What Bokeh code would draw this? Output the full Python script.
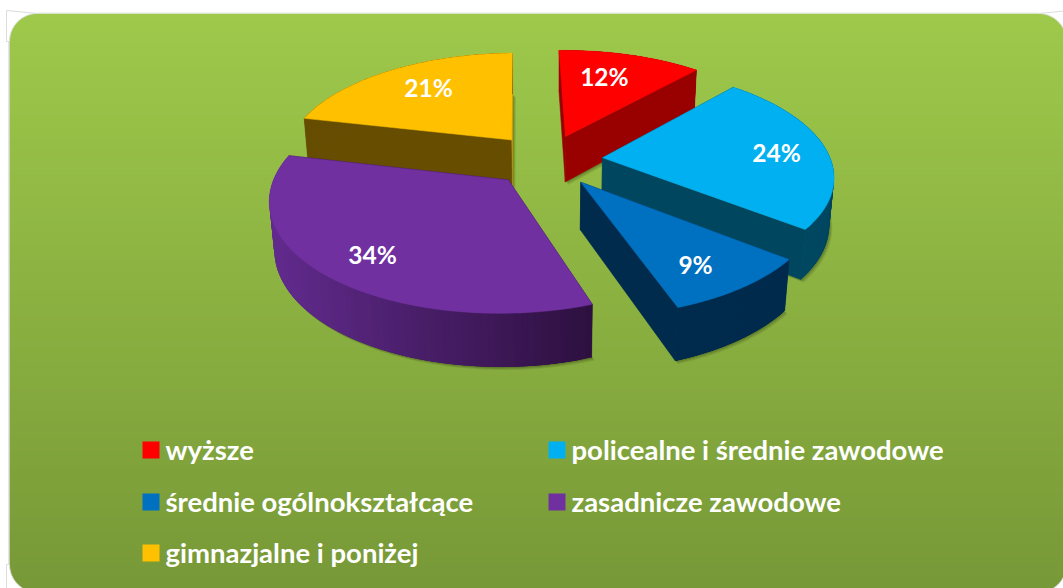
import numpy as np
from bokeh.plotting import figure
from bokeh.embed import file_html
from bokeh.resources import INLINE
from bokeh.core.properties import value

categories = ["wyższe", "policealne i średnie zawodowe", "średnie ogólnokształcące",
              "zasadnicze zawodowe", "gimnazjalne i poniżej"]
shares = [12, 24, 9, 34, 21]
labels = ["12%", "24%", "9%", "34%", "21%"]

TOP = ["#ff0000", "#00b0f0", "#0070c0", "#7030a0", "#ffc000"]
WALL_A = ["#990000", "#00465f", "#002b4d", "#2e1040", "#664d00"]   # wall colour, front right
WALL_B = ["#990000", "#00506c", "#002b4d", "#622b8e", "#664d00"]   # wall colour, far left
END_WALL = ["#990000", "#00465f", "#002b4d", "#2e1040", "#c89600"]
EXPLODE = [0.2436, 0.2463, 0.2493, 0.2443, 0.2508]
LABEL_R = [0.685, 0.774, 0.779, 0.785, 0.710]
LABEL_F = [0.425, 0.516, 0.581, 0.486, 0.535]
DRAW_ORDER = [4, 0, 1, 3, 2]

# fitted perspective camera of the 3-D pie
CX, CY, RAD, SQUASH, K, KZ, DEPTH = 553.16, 159.51, 228.21, 0.46477, 0.15402, 0.01696, 47.35
ROT, X0 = -0.02552, -0.03029

edges = np.concatenate([[0], np.cumsum(shares)]) / sum(shares) * 2 * np.pi + ROT


def proj(i, theta, r, z):
    m = (edges[i] + edges[i + 1]) / 2
    X = X0 + EXPLODE[i] * np.sin(m) + r * np.sin(theta)
    Y = EXPLODE[i] * np.cos(m) + r * np.cos(theta)
    w = 1 / (1 + K * Y + KZ * z)
    return CX + RAD * X * w, CY - RAD * SQUASH * Y * w + DEPTH * z * w


def mix(a, b, t):
    ca = [int(a[j:j + 2], 16) for j in (1, 3, 5)]
    cb = [int(b[j:j + 2], 16) for j in (1, 3, 5)]
    return "#%02x%02x%02x" % tuple(int(round(x + (y - x) * t)) for x, y in zip(ca, cb))


p = figure(width=1063, height=588, x_range=(0, 1063), y_range=(588, 0),
           toolbar_location=None, output_backend="svg", min_border=0,
           background_fill_color="white", border_fill_color="white")
p.axis.visible = False
p.grid.visible = False
p.outline_line_color = None

# panel: vertical gradient, rounded corners
PL, PT, PR, PB, PRAD = 9, 13, 1066, 592, 28
ys = np.arange(PT, PB, 2)
cols = [mix("#9ec94b", "#779837", (y - PT) / (PB - PT)) for y in ys]
p.quad(left=PL, right=PR, top=ys, bottom=PB, fill_color=cols, line_color=None)
ang = np.linspace(0, np.pi / 2, 24)
for sx, sy, cxx, cyy in [(-1, -1, PL + PRAD, PT + PRAD), (1, -1, PR - PRAD, PT + PRAD),
                         (-1, 1, PL + PRAD, PB - PRAD), (1, 1, PR - PRAD, PB - PRAD)]:
    ax = cxx + sx * PRAD * np.cos(ang)
    ay = cyy + sy * PRAD * np.sin(ang)
    p.patch(np.r_[ax, cxx + sx * (PRAD + 3), cxx + sx * (PRAD + 3)],
            np.r_[ay, cyy + sy * (PRAD + 3), cyy + sy * 0],
            fill_color="white", line_color="#dcdcdc", line_width=1)
p.line([PL - 0.5, PL - 0.5], [PT + PRAD, PB - PRAD], line_color="#dcdcdc", line_width=1.5)
p.line([PL + PRAD, PR - PRAD], [PT - 0.5, PT - 0.5], line_color="#e6e6e6", line_width=1)


def arc(i, z, n=90):
    th = np.linspace(edges[i], edges[i + 1], n)
    return th, *proj(i, th, 1, z)


# soft shadows
for i in DRAW_ORDER:
    _, bx, by = arc(i, 1)
    ax_, ay_ = proj(i, 0, 0, 1)
    xs = np.r_[ax_, bx]
    yy = np.r_[ay_, by]
    for off, al in [(3, 0.12), (2, 0.16), (1, 0.2)]:
        p.patch(xs + off, yy + off, fill_color="#2c3a10", fill_alpha=al, line_color=None)

for i in DRAW_ORDER:
    th, tx, ty = arc(i, 0)
    _, bx, by = arc(i, 1)
    apx0, apy0 = proj(i, 0, 0, 0)
    apx1, apy1 = proj(i, 0, 0, 1)
    # radial walls
    p.patch([apx0, tx[0], bx[0], apx1], [apy0, ty[0], by[0], apy1],
            fill_color=WALL_A[i], line_color=WALL_A[i], line_width=0.5)
    p.patch([apx0, tx[-1], bx[-1], apx1], [apy0, ty[-1], by[-1], apy1],
            fill_color=END_WALL[i], line_color=END_WALL[i], line_width=0.5)
    # outer wall, in shaded strips painted over one another so no seams show
    for j in range(len(th) - 1):
        k = min(j + 3, len(th) - 1)
        t = np.clip((tx[j] - tx.min()) / max(tx.max() - tx.min(), 1), 0, 1)
        c = mix(WALL_B[i], WALL_A[i], t)
        p.patch([tx[j], tx[k], bx[k], bx[j]], [ty[j], ty[k], by[k], by[j]],
                fill_color=c, line_color=None)
    # top face
    p.patch(np.r_[apx0, tx], np.r_[apy0, ty], fill_color=TOP[i], line_color=TOP[i], line_width=0.5)

# percentage labels
lx, ly = [], []
for i in range(len(shares)):
    th = edges[i] + LABEL_F[i] * (edges[i + 1] - edges[i])
    u, v = proj(i, th, LABEL_R[i], 0)
    lx.append(float(u))
    ly.append(float(v) - 0.5)
p.text(lx, ly, text=labels, text_color="white", text_font=value("Lato"), text_font_style="bold",
       text_font_size="24.5px", text_align="center", text_baseline="middle")

# legend
COLX = [142, 548]
ROWY = [441, 493, 544]
for k, name in enumerate(categories):
    x0 = COLX[k % 2]
    y0 = ROWY[k // 2]
    p.quad(left=x0, right=x0 + 17, top=y0, bottom=y0 + 17, fill_color=TOP[k], line_color=None)
    p.text([x0 + 23], [y0 + 7.5], text=[name], text_color="white", text_font=value("Lato"),
           text_font_style="bold", text_font_size="27.5px", text_align="left",
           text_baseline="middle")

open("out.html", "w").write(file_html(p, INLINE))
